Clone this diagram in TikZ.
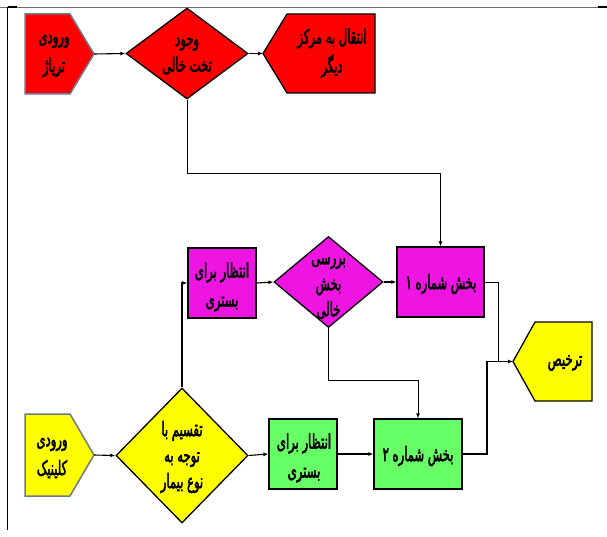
\documentclass[tikz,border=0pt]{standalone}
\usepackage{fontspec}
\newfontfamily\fa[Script=Arabic,FakeStretch=0.58,FakeBold=2.4]{DejaVu Sans}
\TeXXeTstate=1
\usetikzlibrary{shapes.geometric,arrows.meta}
\newcommand{\RL}[1]{\beginR #1\endR}
\definecolor{cred}{RGB}{255,0,0}
\definecolor{cmag}{RGB}{238,20,226}
\definecolor{cyel}{RGB}{255,255,0}
\definecolor{cgrn}{RGB}{102,255,102}
\definecolor{cin}{RGB}{110,122,140}
\definecolor{cframe}{RGB}{110,110,110}
\tikzset{
  txt/.style={font=\fa\fontsize{20}{29}\selectfont, align=center, inner sep=0pt},
  dtxt/.style={font=\fa\fontsize{20}{26}\selectfont, align=center, inner sep=0pt},
  box/.style={draw=black, line width=1.3pt, minimum width=#1, minimum height=70pt, inner sep=0pt},
  dia/.style={diamond, draw=black, line width=1.3pt, inner sep=0pt},
  hold/.style={draw=none, inner sep=0pt, outer sep=0pt},
  inshape/.style={draw=cin, line width=1.5pt},
  outshape/.style={draw=black, line width=1.3pt},
  conn/.style={draw=black, line width=1.1pt, -{Latex[length=5pt,width=4pt]}},
  plain/.style={draw=black, line width=0.9pt},
}
\begin{document}
\begin{tikzpicture}[x=1pt,y=-1pt]
\useasboundingbox (0,0) rectangle (607,537);
% frame
\draw[cframe, line width=1.2pt] (0,7.5) -- (607,7.5);
\draw[black, line width=2pt] (8,7.5) -- (17,7.5);
\draw[black, line width=2pt] (598,7.5) -- (607,7.5);
\draw[black, line width=0.9pt] (7.5,7.5) -- (7.5,530);

% ---- red row
\node[hold, minimum width=69pt, minimum height=80pt] (tri) at (59.5,54) {};
\fill[cred] (tri.north west) -- ([xshift=45pt]tri.north west) -- (tri.east) -- ([xshift=45pt]tri.south west) -- (tri.south west) -- cycle;
\draw[inshape] (tri.north west) -- ([xshift=45pt]tri.north west) -- (tri.east) -- ([xshift=45pt]tri.south west) -- (tri.south west) -- cycle;
\node[txt] (tritxt) at (54,56) {\RL{ورودی}\\\RL{تریاژ}};

\node[dia, fill=cred, minimum width=122pt, minimum height=91pt] (d1) at (187,53.5) {};
\node[dtxt] (d1txt) at (187,56) {\RL{وجود}\\\RL{تخت خالی}};

\node[hold, minimum width=112pt, minimum height=79pt] (trans) at (319,53.5) {};
\fill[cred] (trans.north east) -- ([xshift=-88pt]trans.north east) -- (trans.west) -- ([xshift=-88pt]trans.south east) -- (trans.south east) -- cycle;
\draw[outshape] (trans.north east) -- ([xshift=-88pt]trans.north east) -- (trans.west) -- ([xshift=-88pt]trans.south east) -- (trans.south east) -- cycle;
\node[txt] (transtxt) at (332,53) {\RL{انتقال به مرکز}\\\RL{دیگر}};

% ---- magenta row
\node[box=68pt, fill=cmag] (w1) at (222,283) {};
\node[txt] (w1txt) at (222,287) {\RL{انتظار برای}\\\RL{بستری}};

\node[dia, fill=cmag, minimum width=109pt, minimum height=91pt] (d2) at (328.5,282) {};
\node[dtxt] (d2txt) at (328.5,288) {\RL{بررسی}\\\RL{بخش}\\\RL{خالی}};

\node[box=87pt, fill=cmag] (b1) at (440.5,282) {};
\node[txt] (b1txt) at (441,284) {\RL{بخش شماره ۱}};

% ---- discharge
\node[hold, minimum width=79pt, minimum height=79pt] (dis) at (552.5,361.5) {};
\fill[cyel] (dis.north east) -- ([xshift=-57pt]dis.north east) -- (dis.west) -- ([xshift=-57pt]dis.south east) -- (dis.south east) -- cycle;
\draw[outshape] (dis.north east) -- ([xshift=-57pt]dis.north east) -- (dis.west) -- ([xshift=-57pt]dis.south east) -- (dis.south east) -- cycle;
\node[txt] (distxt) at (565,363) {\RL{ترخیص}};

% ---- bottom row
\node[hold, minimum width=69pt, minimum height=82pt] (cli) at (59.5,455) {};
\fill[cyel] (cli.north west) -- ([xshift=45pt]cli.north west) -- (cli.east) -- ([xshift=45pt]cli.south west) -- (cli.south west) -- cycle;
\draw[inshape] (cli.north west) -- ([xshift=45pt]cli.north west) -- (cli.east) -- ([xshift=45pt]cli.south west) -- (cli.south west) -- cycle;
\node[txt] (clitxt) at (52,458) {\RL{ورودی}\\\RL{کلینیک}};

\node[dia, fill=cyel, minimum width=132pt, minimum height=135pt] (d3) at (182,455.5) {};
\node[dtxt] (d3txt) at (182,457) {\RL{تقسیم با}\\\RL{توجه به}\\\RL{نوع بیمار}};

\node[box=68pt, fill=cgrn] (w2) at (303,454) {};
\node[txt] (w2txt) at (304,458) {\RL{انتظار برای}\\\RL{بستری}};

\node[box=88pt, fill=cgrn] (b2) at (418,454) {};
\node[txt] (b2txt) at (418,456) {\RL{بخش شماره ۲}};

% ---- junctions
\coordinate (j1) at (440.5,173);
\coordinate (j2) at (418,380);
\coordinate (j3) at (498,361.5);
\coordinate (j4) at (487,361.5);

% ---- connectors
\draw[conn] (tri.east) -- (d1.west);
\draw[conn] (d1.east) -- (trans.west);
\draw[plain, -{Latex[length=5pt,width=4pt]}] (d1.south) |- (j1) -- (b1.north);
\draw[conn] (d3.north) |- (w1.west);
\draw[conn] (w1.east) -- (d2.west);
\draw[conn] (d2.east) -- (b1.west);
\draw[plain, -{Latex[length=5pt,width=4pt]}] (d2.south) |- (j2) -- (b2.north);
\draw[plain] (b1.east) -| (j3);
\draw[conn] (b2.east) -| (j4) -- (dis.west);
\draw[conn] (cli.east) -- (d3.west);
\draw[conn] (d3.east) -- (w2.west);
\draw[conn] (w2.east) -- (b2.west);
\end{tikzpicture}
\end{document}
